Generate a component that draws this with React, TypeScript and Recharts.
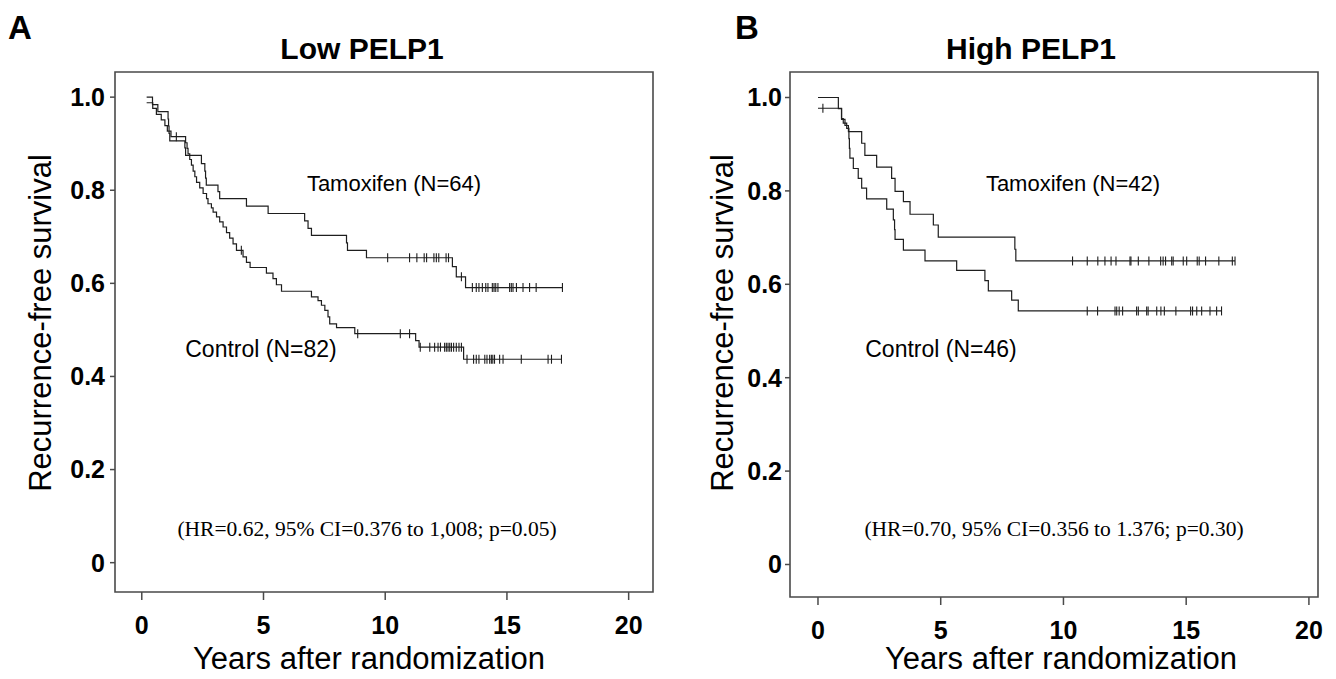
import React from 'react';
import { ComposedChart, Line, Scatter, XAxis, YAxis, ReferenceArea } from 'recharts';

// ---- data (time in years, survival proportion) ----
const xTicks = [0, 5, 10, 15, 20];
const yTicks = [0, 0.2, 0.4, 0.6, 0.8, 1.0];

// Panel A: Low PELP1
const tamLowSteps: [number, number][] = [
  [0.2, 1.0], [0.44, 0.984], [0.66, 0.969], [1.08, 0.953], [1.1, 0.938], [1.12, 0.922], [1.15, 0.906],
  [1.77, 0.891], [1.8, 0.875], [2.45, 0.857], [2.59, 0.841], [2.62, 0.826], [2.65, 0.811],
  [3.13, 0.797], [3.2, 0.782], [4.3, 0.766], [5.19, 0.75], [6.69, 0.734], [6.83, 0.718], [6.97, 0.703],
  [8.41, 0.687], [8.45, 0.671], [9.23, 0.655], [12.76, 0.636], [12.92, 0.614], [13.3, 0.591], [17.28, 0.591],
];
const tamLowCensor = [10.1, 11.0, 11.3, 11.6, 11.7, 12.0, 12.1, 12.2, 12.5, 12.6, 13.13, 13.58, 13.74, 13.85,
  13.99, 14.13, 14.22, 14.4, 14.47, 14.54, 14.63, 15.11, 15.18, 15.25, 15.39, 15.66, 15.93, 16.2, 17.28];

const ctrlLowSteps: [number, number][] = [
  [0.2, 0.988], [0.45, 0.976], [0.6, 0.963], [0.8, 0.951], [0.95, 0.939], [1.05, 0.927], [1.2, 0.915],
  [1.8, 0.902], [1.86, 0.89], [1.9, 0.878], [1.97, 0.866], [2.04, 0.854], [2.11, 0.841], [2.18, 0.829],
  [2.25, 0.817], [2.38, 0.805], [2.52, 0.793], [2.66, 0.782], [2.72, 0.771], [2.86, 0.762], [2.93, 0.753],
  [3.07, 0.743], [3.2, 0.732], [3.34, 0.721], [3.48, 0.709], [3.61, 0.697], [3.75, 0.685], [3.89, 0.671],
  [4.16, 0.657], [4.3, 0.645], [4.45, 0.634], [5.12, 0.622], [5.39, 0.61], [5.53, 0.597], [5.74, 0.583],
  [6.97, 0.571], [7.24, 0.563], [7.38, 0.553], [7.52, 0.542], [7.65, 0.528], [7.72, 0.513], [8.0, 0.505],
  [8.75, 0.492], [11.25, 0.477], [11.39, 0.463], [13.22, 0.437], [17.24, 0.437],
];
const ctrlLowCensor = [1.42, 4.09, 8.87, 10.62, 11.0, 11.44, 11.83, 12.03, 12.17, 12.27, 12.44, 12.51, 12.58,
  12.65, 12.72, 12.81, 12.92, 13.03, 13.13, 13.36, 13.63, 13.74, 13.85, 14.09, 14.18, 14.29, 14.36, 14.42,
  14.49, 14.7, 14.84, 15.59, 16.69, 16.83, 17.24];

// Panel B: High PELP1
const tamHighSteps: [number, number][] = [
  [0, 1.0], [0.83, 0.976], [0.96, 0.953], [1.1, 0.94], [1.24, 0.927], [1.78, 0.902], [1.91, 0.876],
  [2.39, 0.851], [3.0, 0.827], [3.14, 0.799], [3.48, 0.777], [3.75, 0.75], [4.7, 0.727], [4.9, 0.701],
  [8.02, 0.675], [8.06, 0.65], [16.99, 0.65],
];
const tamHighCensor = [10.37, 10.97, 11.4, 11.69, 11.94, 12.14, 12.71, 12.75, 13.05, 13.48, 13.96, 14.06,
  14.16, 14.41, 14.47, 14.88, 15.02, 15.45, 15.53, 15.79, 16.33, 16.88, 16.99];

const ctrlHighSteps: [number, number][] = [
  [0, 0.977], [0.96, 0.955], [1.03, 0.945], [1.17, 0.934], [1.26, 0.912], [1.28, 0.891], [1.3, 0.87],
  [1.44, 0.848], [1.64, 0.827], [1.78, 0.806], [1.98, 0.783], [2.8, 0.761], [3.07, 0.738], [3.12, 0.717],
  [3.14, 0.696], [3.48, 0.673], [4.36, 0.65], [5.65, 0.63], [6.8, 0.608], [6.94, 0.586], [7.89, 0.566],
  [8.16, 0.543], [16.46, 0.543],
];
const ctrlHighCensor = [0.2, 10.97, 11.39, 12.1, 12.17, 12.27, 12.41, 12.98, 13.05, 13.39, 13.45, 13.8,
  13.97, 14.11, 14.58, 15.18, 15.26, 15.43, 15.63, 15.97, 16.24, 16.44];

// ---- helpers ----
const toRows = (steps: [number, number][]) => steps.map(([t, s]) => ({ t, s }));
const survAt = (steps: [number, number][], t: number) => {
  let s = steps[0][1];
  for (const [tt, ss] of steps) if (tt <= t + 1e-9) s = ss;
  return s;
};
const censorRows = (steps: [number, number][], times: number[]) =>
  times.map((t) => ({ t, s: survAt(steps, t) }));

const INK = '#1e1e1e';
const FRAME = '#4a4a4a';
const SANS = '"Liberation Sans", Arial, Helvetica, sans-serif';
const SERIF = '"Liberation Serif", "Times New Roman", serif';

const CensorMark = (p: any) => {
  if (p.cx == null || p.cy == null) return <g />;
  return <line x1={p.cx} x2={p.cx} y1={p.cy - 4.5} y2={p.cy + 4.5} stroke={INK} strokeWidth={1.1} />;
};

const fmtY = (v: number) => (v === 0 ? '0' : v.toFixed(1));

type PanelProps = {
  left: number;
  margin: { top: number; right: number; bottom: number; left: number };
  xDomain: [number, number];
  yDomain: [number, number];
  tamSteps: [number, number][];
  tamCensor: number[];
  ctrlSteps: [number, number][];
  ctrlCensor: number[];
  yTickMargin: number;
};

const Panel = (p: PanelProps) => {
  const tickStyle = { fontFamily: SANS, fontWeight: 700, fontSize: 25, fill: '#000' };
  return (
    <div style={{ position: 'absolute', left: p.left, top: 0, width: 668, height: 679 }}>
      <ComposedChart width={668} height={679} margin={p.margin}>
        <XAxis
          type="number"
          dataKey="t"
          domain={p.xDomain}
          allowDataOverflow
          ticks={xTicks}
          interval={0}
          height={60}
          axisLine={false}
          tickLine={{ stroke: FRAME, strokeWidth: 1.5 }}
          tickSize={8}
          tickMargin={16}
          tick={tickStyle}
        />
        <YAxis
          type="number"
          dataKey="s"
          domain={p.yDomain}
          allowDataOverflow
          ticks={yTicks}
          interval={0}
          width={100}
          axisLine={false}
          tickLine={{ stroke: FRAME, strokeWidth: 1.5 }}
          tickSize={5}
          tickMargin={p.yTickMargin}
          tickFormatter={fmtY}
          tick={tickStyle}
        />
        <ReferenceArea
          x1={p.xDomain[0]}
          x2={p.xDomain[1]}
          y1={p.yDomain[0]}
          y2={p.yDomain[1]}
          fill="none"
          stroke={FRAME}
          strokeWidth={1.6}
          ifOverflow="visible"
        />
        <Line data={toRows(p.tamSteps)} dataKey="s" type="stepAfter" stroke={INK} strokeWidth={1.2}
          dot={false} activeDot={false} isAnimationActive={false} />
        <Line data={toRows(p.ctrlSteps)} dataKey="s" type="stepAfter" stroke={INK} strokeWidth={1.2}
          dot={false} activeDot={false} isAnimationActive={false} />
        <Scatter data={censorRows(p.tamSteps, p.tamCensor)} dataKey="s" shape={CensorMark} isAnimationActive={false} />
        <Scatter data={censorRows(p.ctrlSteps, p.ctrlCensor)} dataKey="s" shape={CensorMark} isAnimationActive={false} />
      </ComposedChart>
    </div>
  );
};

export default function App() {
  const yLabel = 'Recurrence-free survival';
  const xLabel = 'Years after randomization';
  return (
    <div style={{ position: 'absolute', left: 0, top: 0, width: 1336, height: 679, background: '#fff', overflow: 'hidden' }}>
      <Panel
        left={0}
        margin={{ top: 72, right: 15, bottom: 27, left: 15 }}
        xDomain={[-1.1, 21.0]}
        yDomain={[-0.063, 1.054]}
        tamSteps={tamLowSteps}
        tamCensor={tamLowCensor}
        ctrlSteps={ctrlLowSteps}
        ctrlCensor={ctrlLowCensor}
        yTickMargin={5}
      />
      <Panel
        left={668}
        margin={{ top: 72, right: 18, bottom: 22, left: 22 }}
        xDomain={[-1.14, 20.37]}
        yDomain={[-0.0696, 1.0546]}
        tamSteps={tamHighSteps}
        tamCensor={tamHighCensor}
        ctrlSteps={ctrlHighSteps}
        ctrlCensor={ctrlHighCensor}
        yTickMargin={3}
      />
      <svg width={1336} height={679} style={{ position: 'absolute', left: 0, top: 0, pointerEvents: 'none' }}>
        <g fontFamily={SANS} fill="#000">
          <text x={8} y={39} fontSize={33} fontWeight={700}>A</text>
          <text x={735} y={39} fontSize={33} fontWeight={700}>B</text>
          <text x={362} y={59} fontSize={30} fontWeight={700} textAnchor="middle">Low PELP1</text>
          <text x={1031} y={59} fontSize={30} fontWeight={700} textAnchor="middle">High PELP1</text>

          <text x={40} y={323} fontSize={31} textAnchor="middle" dominantBaseline="central" transform="rotate(-90 40 323)">{yLabel}</text>
          <text x={722} y={323} fontSize={31} textAnchor="middle" dominantBaseline="central" transform="rotate(-90 722 323)">{yLabel}</text>
          <text x={369} y={669} fontSize={31} textAnchor="middle">{xLabel}</text>
          <text x={1061} y={669} fontSize={31} textAnchor="middle">{xLabel}</text>

          <text x={394} y={191} fontSize={22} textAnchor="middle">Tamoxifen (N=64)</text>
          <text x={261} y={357} fontSize={23} textAnchor="middle">Control (N=82)</text>
          <text x={1073} y={191} fontSize={22} textAnchor="middle">Tamoxifen (N=42)</text>
          <text x={941} y={357} fontSize={23} textAnchor="middle">Control (N=46)</text>
        </g>
        <g fontFamily={SERIF} fill="#000" fontSize={21.5}>
          <text x={367} y={536} textAnchor="middle">(HR=0.62, 95% CI=0.376 to 1,008; p=0.05)</text>
          <text x={1054} y={536} textAnchor="middle">(HR=0.70, 95% CI=0.356 to 1.376; p=0.30)</text>
        </g>
      </svg>
    </div>
  );
}
